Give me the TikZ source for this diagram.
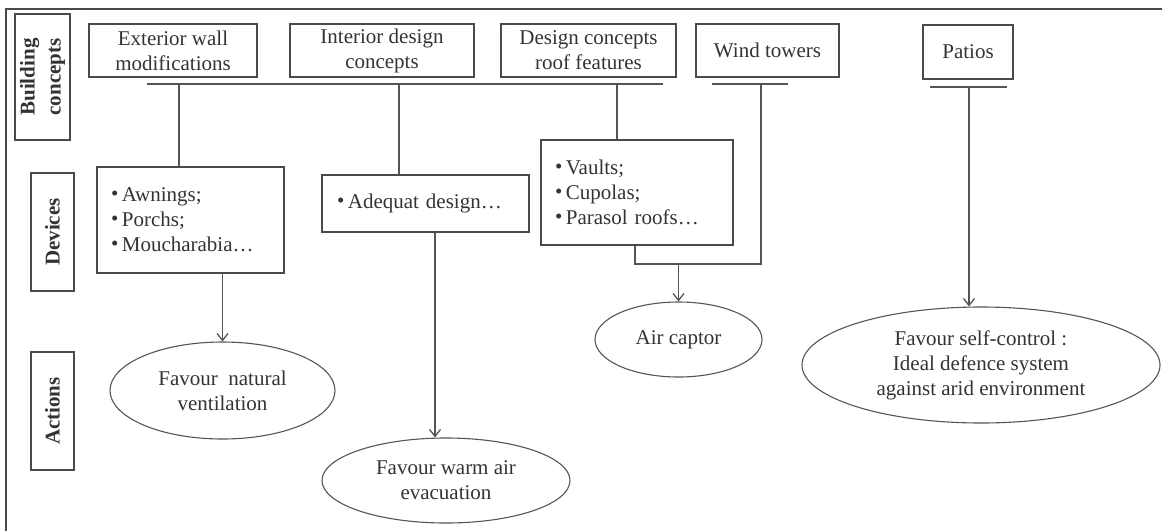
\documentclass[tikz,border=0pt]{standalone}
\usepackage{fontspec}
\setmainfont{Liberation Serif}
\usetikzlibrary{shapes.geometric,arrows.meta}
\definecolor{ln}{HTML}{555555}
\definecolor{bx}{HTML}{4A4A4A}
\definecolor{tx}{HTML}{333333}
\begin{document}
\begin{tikzpicture}[x=1pt,y=-1pt,
  every node/.style={font=\fontsize{21}{25}\selectfont, text=tx},
  box/.style={draw=bx, line width=1.3pt, inner sep=0pt, align=center},
  sidelab/.style={box, rotate=90, font=\fontsize{21}{26}\selectfont\bfseries},
  listbox/.style={draw=bx, line width=1.3pt, inner ysep=0pt, inner xsep=14pt, align=left},
  oval/.style={ellipse, draw=ln, line width=1.1pt, inner sep=0pt, align=center},
  conn/.style={draw=ln, line width=1.4pt},
  arr/.style={conn, -{Straight Barb[length=7pt,width=11pt,line width=1.3pt]}}]
\useasboundingbox (0,0) rectangle (1162,531);
% frame
\coordinate (fb) at (6,531);
\coordinate (fc) at (6,9);
\coordinate (fr) at (1162,9);
\draw[draw=bx, line width=1.2pt] (fb) -- (fc) -- (fr);

% side labels
\node[sidelab, minimum width=126pt, minimum height=55pt] (bc) at (42.5,77) {Building\\concepts};
\node[sidelab, minimum width=118pt, minimum height=43pt] (dev) at (52.5,232) {Devices};
\node[sidelab, minimum width=118pt, minimum height=43pt] (act) at (52.5,411) {Actions};

% top boxes
\node[box, minimum width=168pt, minimum height=53pt] (ext) at (173,50.5) {Exterior wall\\modifications};
\node[box, minimum width=184pt, minimum height=53pt] (int) at (382,50.5) {Interior design\\concepts};
\node[box, minimum width=175pt, minimum height=53pt] (roof) at (588.5,50.5) {Design concepts\\roof features};
\node[box, minimum width=143pt, minimum height=53pt] (wind) at (767.5,50.5) {Wind towers};
\node[box, minimum width=90pt, minimum height=54pt] (pat) at (968,52) {Patios};

% device boxes
\node[listbox, text width=159pt, minimum height=106pt] (aw) at (190.5,220)
  {\raisebox{1pt}{•}\,Awnings;\\\raisebox{1pt}{•}\,Porchs;\\\raisebox{1pt}{•}\,Moucharabia…};
\node[listbox, text width=177pt, inner xsep=15pt, minimum height=57pt] (ad) at (425.5,203.5)
  {\raisebox{1pt}{•}\,Adequat design…};
\node[listbox, text width=164pt, minimum height=105pt] (va) at (637,192.5)
  {\raisebox{1pt}{•}\,Vaults;\\\raisebox{1pt}{•}\,Cupolas;\\\raisebox{1pt}{•}\,Parasol roofs…};

% action ellipses
\node[oval, minimum width=225pt, minimum height=97pt] (nat) at (222.5,390.5) {Favour\ \ natural\\ventilation};
\node[oval, minimum width=248pt, minimum height=85pt] (warm) at (446,480.5) {Favour warm air\\evacuation};
\node[oval, minimum width=167pt, minimum height=75pt] (air) at (678.5,339.5) {Air captor};
\node[oval, minimum width=358pt, minimum height=116pt] (self) at (981,365) {Favour self-control :\\Ideal defence system\\against arid environment};

% building concept bar
\coordinate (h1) at (147,84);
\coordinate (h2) at (663,84);
\draw[conn] (h1) -- (h2);
\coordinate (j1) at (179,84);
\coordinate (j2) at (399,84);
\coordinate (j3) at (617,84);
\draw[conn] (j1) -- (j1 |- aw.north);
\draw[conn] (j2) -- (j2 |- ad.north);
\draw[conn] (j3) -- (j3 |- va.north);

% wind towers
\coordinate (w1) at (712,84);
\coordinate (w2) at (788,84);
\draw[conn] (w1) -- (w2);
\coordinate (j4) at (761,84);
\coordinate (k) at (761,264);
\coordinate (jv) at (635,264);
\draw[conn] (j4) -- (k) -- (jv) -- (jv |- va.south);
\coordinate (m) at (678.5,264);
\draw[arr] (m) -- (air.north);

% patios
\coordinate (p1) at (930,87);
\coordinate (p2) at (1007,87);
\draw[conn] (p1) -- (p2);
\coordinate (j5) at (969,87);
\draw[arr] (j5) -- (j5 |- self.north);

% device -> action
\draw[arr] (aw.south -| nat.north) -- (nat.north);
\coordinate (j6) at (435,0);
\draw[arr] (j6 |- ad.south) -- (j6 |- warm.north);
\end{tikzpicture}
\end{document}
